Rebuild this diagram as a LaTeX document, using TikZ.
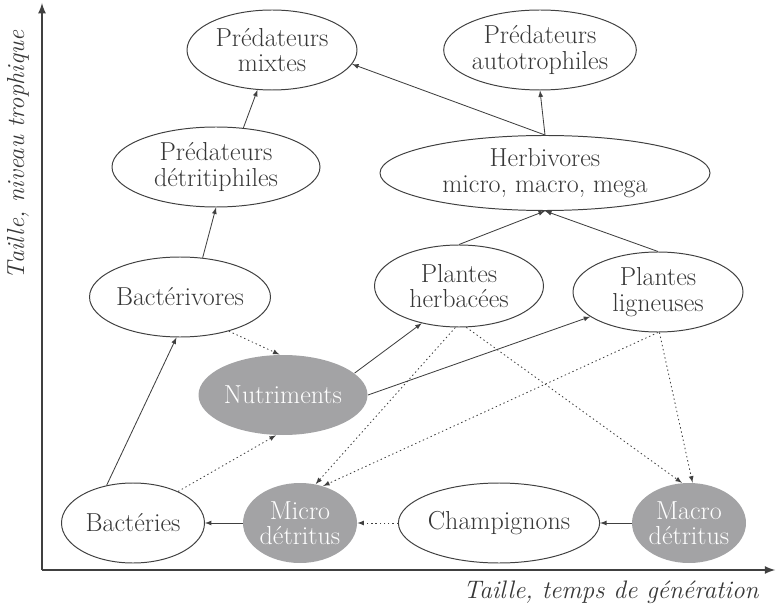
\documentclass[tikz,border=0pt]{standalone}
\usetikzlibrary{shapes.geometric}

\definecolor{linegray}{RGB}{64,64,64}
\definecolor{textgray}{RGB}{55,55,55}
\definecolor{nodegray}{RGB}{163,163,165}

\begin{document}
\begin{tikzpicture}[
				blob/.style = {ellipse, draw=linegray, line width=0.7pt, text=textgray, align=center,
						inner sep=0pt, font=\fontsize{18.5}{18}\selectfont},
				grayblob/.style = {blob, draw=none, fill=nodegray, text=white},
				flow/.style = {-latex, line width=0.6pt, draw=linegray},
				leak/.style = {flow, dash pattern=on 1pt off 2pt},
				axis/.style = {-latex, line width=1.5pt, draw=linegray},
			]
			\path[use as bounding box] (0,0) rectangle (19.4,15.175);
			% axes
			\coordinate (o) at (1.05,0.925);
			\coordinate (ytop) at (1.05,15.1);
			\coordinate (xend) at (19.38,0.925);
			\draw[axis] (o) -- (ytop);
			\draw[axis] (o) -- (xend);
			\node[rotate=90, text=textgray, font=\fontsize{17.5}{20}\selectfont\itshape] (ylab) at (0.45,11.3) {Taille, niveau trophique};
			\node[text=textgray, font=\fontsize{18}{20}\selectfont\itshape] (xlab) at (15.275,0.375) {Taille, temps de g\'en\'eration};
			% upper levels
			\node[blob, minimum width=4.25cm, minimum height=2cm] (pmix) at (6.8,13.925) {Pr\'edateurs\\mixtes};
			\node[blob, minimum width=4.5cm, minimum height=2cm] (pauto) at (13.5,13.925) {Pr\'edateurs\\autotrophiles};
			\node[blob, minimum width=5.2cm, minimum height=2cm] (pdet) at (5.4,11.0) {Pr\'edateurs\\d\'etritiphiles};
			\node[blob, minimum width=8.25cm, minimum height=1.875cm] (herb) at (13.625,10.85) {Herbivores\\micro, macro, mega};
			\node[blob, minimum width=4.275cm, minimum height=2cm] (bvor) at (4.5,7.75) {Bact\'erivores};
			\node[blob, minimum width=4.225cm, minimum height=2.05cm] (pherb) at (11.475,8.025) {Plantes\\herbac\'ees};
			\node[blob, minimum width=4.25cm, minimum height=2cm] (plig) at (16.45,7.875) {Plantes\\ligneuses};
			\node[grayblob, minimum width=4.225cm, minimum height=2cm] (nutr) at (7.075,5.3) {Nutriments};
			% bottom row
			\node[blob, minimum width=3.575cm, minimum height=2cm] (bact) at (3.325,2.1) {Bact\'eries};
			\node[grayblob, minimum width=2.75cm, minimum height=2cm] (micro) at (7.5,2.1) {Micro\\d\'etritus};
			\node[blob, minimum width=4.55cm, minimum height=2cm] (champ) at (12.475,2.1) {Champignons};
			\node[grayblob, minimum width=2.8cm, minimum height=2cm] (macro) at (17.225,2.1) {Macro\\d\'etritus};
			% solid fluxes
			\draw[flow] (pdet.55) -- (pmix.-110);
			\draw[flow] (herb.north) -- (pmix.-10);
			\draw[flow] (herb.north) -- (pauto.south);
			\draw[flow] (bvor.60) -- (pdet.south);
			\draw[flow] (pherb.north) -- (herb.south);
			\draw[flow] (plig.north) -- (herb.south);
			\draw[flow] (nutr.17) -- (pherb.-135);
			\draw[flow] (nutr.east) -- (plig.-160);
			\draw[flow] (bact.125) -- (bvor.-95);
			\draw[flow] (micro.west) -- (bact.east);
			\draw[flow] (macro.west) -- (champ.east);
			% dotted fluxes
			\draw[leak] (bvor.-35) -- (nutr.95);
			\draw[leak] (bact.35) -- (nutr.-100);
			\draw[leak] (champ.west) -- (micro.east);
			\draw[leak] (pherb.-95) -- (micro.68);
			\draw[leak] (plig.-90) -- (micro.58);
			\draw[leak] (pherb.-80) -- (macro.100);
			\draw[leak] (plig.-88) -- (macro.85);
		\end{tikzpicture}
\end{document}
